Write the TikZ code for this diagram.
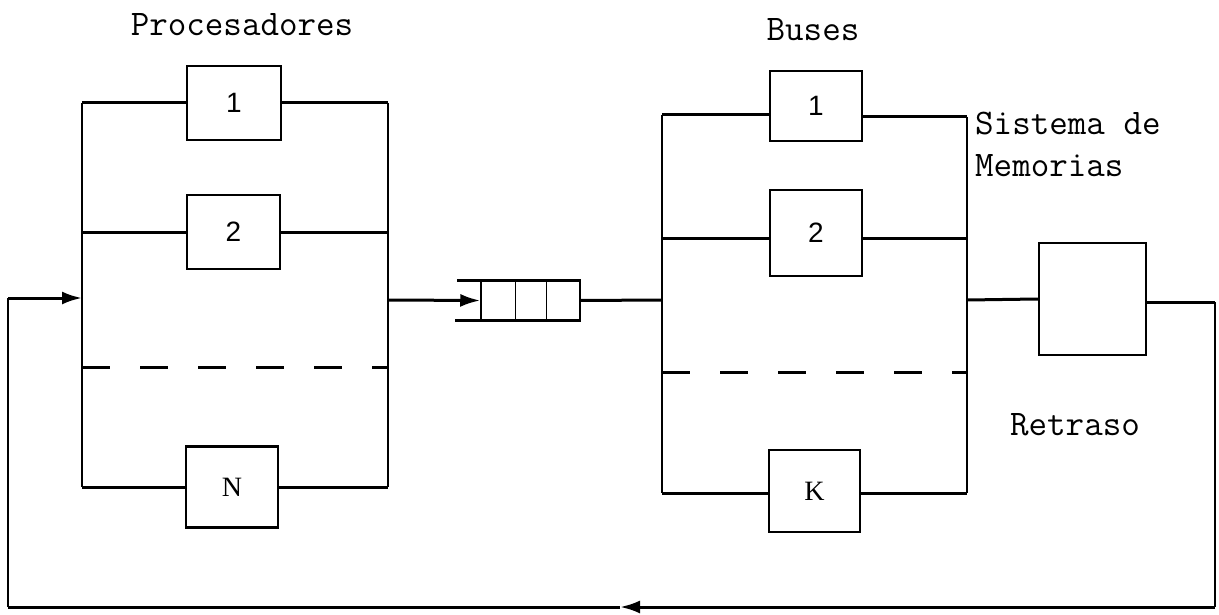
\documentclass[tikz,border=0pt]{standalone}
\usepackage{fontspec}
\setmainfont{Liberation Serif}
\newfontfamily\sansnum{Liberation Sans}
\usetikzlibrary{arrows.meta,calc}
\tikzset{
  unitbox/.style={draw, line width=2.4pt, inner sep=0pt, font=\sansnum\fontsize{28}{28}\selectfont},
  letterbox/.style={unitbox, font=\rmfamily\fontsize{28}{28}\selectfont},
  branch/.style={line width=3pt},
  rail/.style={line width=1.8pt},
  thinline/.style={line width=1.2pt},
  dashline/.style={line width=3pt, dash pattern=on 28pt off 30pt},
  label/.style={font=\ttfamily\fontsize{36}{36}\selectfont, inner sep=0pt},
  tip/.style={-{Latex[length=20pt,width=13pt]}},
}
\begin{document}
\begin{tikzpicture}[x=1pt,y=-1pt]
\useasboundingbox (0,0) rectangle (1219,615);

% ---------- Procesadores ----------
\node[label] (tproc) at (242,25) {Procesadores};
\node[unitbox, minimum width=94pt, minimum height=74pt] (p1) at (234,103) {1};
\node[unitbox, minimum width=93pt, minimum height=74pt] (p2) at (233.5,232) {2};
\node[letterbox, minimum width=92pt, minimum height=81pt] (pN) at (232,487) {N};

\coordinate (pl1) at (82,103);  \coordinate (pr1) at (388,103);
\coordinate (pl2) at (82,232);  \coordinate (pr2) at (388,232);
\coordinate (plN) at (82,487);  \coordinate (prN) at (388,487);
\coordinate (pld) at (82,367);  \coordinate (prd) at (388,367);
\coordinate (plin) at (82,298); \coordinate (prout) at (388,300);

\draw[rail] (pl1) -- (plN);
\draw[rail] (pr1) -- (prN);
\draw[branch] (pl1) -- (pl1 -| p1.west);
\draw[branch] (p1.east |- pr1) -- (pr1);
\draw[branch] (pl2) -- (pl2 -| p2.west);
\draw[branch] (p2.east |- pr2) -- (pr2);
\draw[branch] (plN) -- (plN -| pN.west);
\draw[branch] (pN.east |- prN) -- (prN);
\draw[dashline] (pld) -- (prd);

% ---------- Cola ----------
\node[draw, line width=1.5pt, minimum width=99pt, minimum height=39pt, inner sep=0pt] (q) at (530.5,300.5) {};
\draw[branch] (q.north east) -- ($(q.north west)+(-23,0)$);
\draw[branch] (q.south east) -- ($(q.south west)+(-25,0)$);
\draw[line width=1.5pt] ($(q.north west)+(35,0)$) -- ($(q.south west)+(35,0)$);
\draw[line width=1.5pt] ($(q.north west)+(66,0)$) -- ($(q.south west)+(66,0)$);
\draw[branch, tip] (prout) -- (q.west);

% ---------- Buses ----------
\node[label] (tbus) at (813,30) {Buses};
\node[unitbox, minimum width=92pt, minimum height=70pt] (b1) at (816,106) {1};
\node[unitbox, minimum width=92pt, minimum height=86pt] (b2) at (816,233) {2};
\node[letterbox, minimum width=91pt, minimum height=82pt] (bK) at (814.5,491) {K};

\coordinate (bl1) at (662,115);  \coordinate (br1) at (967,117);
\coordinate (bl2) at (662,238);  \coordinate (br2) at (967,238);
\coordinate (blK) at (662,493);  \coordinate (brK) at (967,493);
\coordinate (bld) at (662,372);  \coordinate (brd) at (967,372);
\coordinate (blin) at (662,300); \coordinate (brout) at (967,300);

\draw[rail] (bl1) -- (blK);
\draw[rail] (br1) -- (brK);
\draw[branch] (bl1) -- (bl1 -| b1.west);
\draw[branch] (b1.east |- br1) -- (br1);
\draw[branch] (bl2) -- (bl2 -| b2.west);
\draw[branch] (b2.east |- br2) -- (br2);
\draw[branch] (blK) -- (blK -| bK.west);
\draw[branch] (bK.east |- brK) -- (brK);
\draw[dashline] (bld) -- (brd);
\draw[branch] (q.east) -- (blin);

\node[label, anchor=west] (tsis) at (975,124) {Sistema de};
\node[label, anchor=west] (tmem) at (975,166) {Memorias};

% ---------- Retraso ----------
\node[draw, line width=2.4pt, minimum width=107pt, minimum height=112pt, inner sep=0pt] (ret) at (1092.5,299) {};
\node[label] (tret) at (1075,425) {Retraso};
\draw[branch] (brout) -- (ret.west);

% ---------- Realimentacion ----------
\coordinate (fa) at (1215,302);
\coordinate (fb) at (1215,607);
\coordinate (fm) at (620,607);
\coordinate (fc) at (8,607);
\coordinate (fin) at (8,298);
\draw[branch] (ret.east |- fa) -- (fa);
\draw[thinline] (fa) -- (fb);
\draw[branch, tip] (fb) -- (fm);
\draw[branch] (fm) -- (fc);
\draw[thinline] (fc) -- (fin);
\draw[branch, tip] (fin) -- (plin);
\end{tikzpicture}
\end{document}
